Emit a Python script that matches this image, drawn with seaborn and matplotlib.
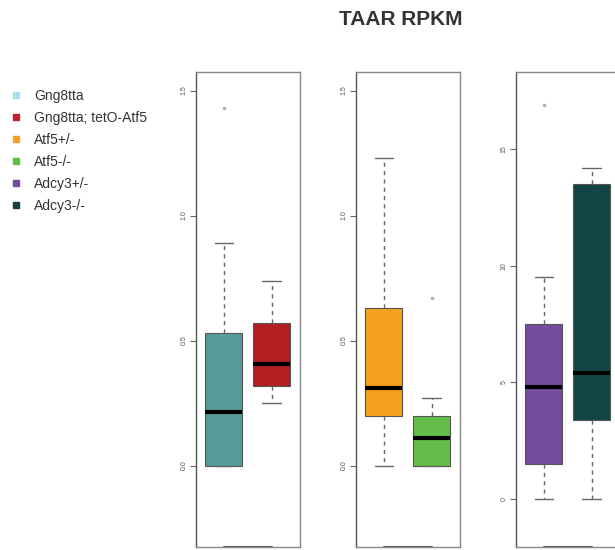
import pandas as pd
import seaborn as sns
import matplotlib
matplotlib.use("Agg")
import matplotlib.pyplot as plt
from matplotlib.lines import Line2D

genotypes = ["Gng8tta", "Gng8tta; tetO-Atf5", "Atf5+/-", "Atf5-/-", "Adcy3+/-", "Adcy3-/-"]
legend_colors = ["#a9dfef", "#c22127", "#f6a21f", "#5fbf45", "#754a9d", "#124444"]
box_colors = ["#579b9a", "#b11f23", "#f5a11d", "#63bd48", "#754b9c", "#134545"]
panel_of = [0, 0, 1, 1, 2, 2]

# box summaries (RPKM)
whisk_lo = [0.0, 0.25, 0.0, 0.0, 0.0, 0.0]
q1 = [0.0, 0.32, 0.20, 0.0, 1.5, 3.4]
median = [0.215, 0.405, 0.31, 0.11, 4.8, 5.4]
q3 = [0.53, 0.57, 0.63, 0.20, 7.5, 13.5]
whisk_hi = [0.89, 0.74, 1.23, 0.27, 9.5, 14.2]
outliers = [[1.43], [], [], [0.67], [16.9], []]

y_ticks = [[0, 0.5, 1.0, 1.5], [0, 0.5, 1.0, 1.5], [0, 5, 10, 15]]
y_ticklabels = [["0.0", "0.5", "1.0", "1.5"], ["0.0", "0.5", "1.0", "1.5"], ["0", "5", "10", "15"]]
y_limits = [(-0.326, 1.574), (-0.326, 1.574), (-2.06, 18.3)]

# long-form table whose quartiles reproduce the summaries above
rows = []
for i, g in enumerate(genotypes):
    vals = [whisk_lo[i], q1[i], q1[i], median[i], median[i], q3[i], q3[i], whisk_hi[i]] + outliers[i]
    for v in vals:
        rows.append({"panel": panel_of[i], "genotype": g, "rpkm": v})
df = pd.DataFrame(rows)

sns.set_style("white")
plt.rcParams['font.family'] = ['Liberation Sans', 'DejaVu Sans']

fig = plt.figure(figsize=(6.15, 5.5), dpi=100)
lefts = [196 / 615, 356 / 615, 516 / 615]
for p in range(3):
    ax = fig.add_axes([lefts[p], 3 / 550, 104 / 615, 475 / 550])
    sub = df[df["panel"] == p]
    order = [g for i, g in enumerate(genotypes) if panel_of[i] == p]
    pal = {g: box_colors[i] for i, g in enumerate(genotypes)}
    sns.boxplot(data=sub, x="genotype", y="rpkm", hue="genotype", order=order,
                hue_order=order, palette=pal, saturation=1, width=0.77, dodge=False,
                linewidth=0.8, linecolor="#555555", whis=1.5, fliersize=1.5,
                medianprops=dict(color="black", linewidth=3),
                whiskerprops=dict(linestyle=(0, (3, 3)), color="#666666", linewidth=1),
                capprops=dict(color="#666666", linewidth=1),
                flierprops=dict(marker="o", markerfacecolor="#b0b0b0", markeredgecolor="#b0b0b0"),
                legend=False, ax=ax)
    ax.set_xlim(-0.58, 1.59)
    ax.set_ylim(*y_limits[p])
    ax.set_xlabel("")
    ax.set_ylabel("")
    ax.set_xticks([])
    ax.set_yticks(y_ticks[p])
    ax.set_yticklabels(y_ticklabels[p], rotation=90, va="center", fontsize=5, color="#555555")
    ax.tick_params(axis="y", left=True, direction="out", length=4, width=0.8, color="#666666", pad=2)
    for s in ax.spines.values():
        s.set_color("#888888")
        s.set_linewidth(1)
    ax.spines["left"].set_color("#555555")
    # short x axis line between the two groups
    ax.plot([0, 1], [0, 0], transform=ax.get_xaxis_transform(), color="#555555", lw=1.5, clip_on=False)

handles = [Line2D([], [], marker="s", linestyle="none", markersize=4,
                  markerfacecolor=c, markeredgecolor=c) for c in legend_colors]
fig.legend(handles, genotypes, loc="upper left", bbox_to_anchor=(0.02, 0.838), frameon=False,
           fontsize=10, handlelength=0.6, handletextpad=0.95, labelspacing=0.57,
           borderaxespad=0, borderpad=0, labelcolor="#333333")

fig.text(0.651, 0.9645, "TAAR RPKM", ha="center", va="center", fontsize=15, fontweight="bold", color="#333333")

fig.savefig("out.png", dpi=100)
